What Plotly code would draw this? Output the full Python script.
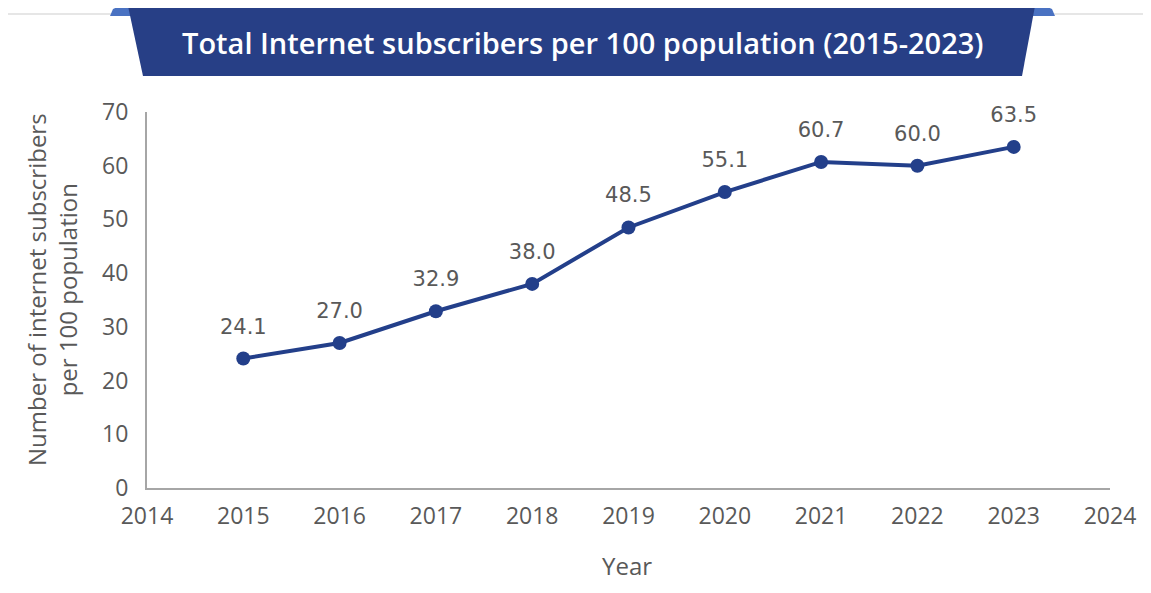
import plotly.graph_objects as go

years = [2015, 2016, 2017, 2018, 2019, 2020, 2021, 2022, 2023]
subscribers = [24.1, 27.0, 32.9, 38.0, 48.5, 55.1, 60.7, 60.0, 63.5]
x_ticks = [2014, 2015, 2016, 2017, 2018, 2019, 2020, 2021, 2022, 2023, 2024]
y_ticks = [0, 10, 20, 30, 40, 50, 60, 70]
title_text = "Total Internet subscribers per 100 population (2015-2023)"
y_title = "Number of internet subscribers<br>per 100 population"
x_title = "Year"

OFF = 8  # page offset of the figure (body margin)
W, H = 1151 - OFF, 593 - OFF
# plot area in page pixels: x 147..1110, y 112..488
PL, PR, PT, PB = 147, 1110, 112, 488
L, T = PL - OFF, PT - OFF
R, B = W - (PR - OFF), H - (PB - OFF)
pw, ph = PR - PL, PB - PT

def px(x):
    return (x - PL) / pw

def py(y):
    return (PB - y) / ph

navy = "#273F86"
grey_txt = "#595959"

fig = go.Figure()
fig.add_trace(go.Scatter(
    x=years, y=subscribers, mode="lines+markers",
    line=dict(color="#233F8A", width=4),
    marker=dict(color="#233F8A", size=14),
    showlegend=False, hoverinfo="x+y",
))
# data labels (invisible larger markers push the text a bit higher)
fig.add_trace(go.Scatter(
    x=years, y=subscribers, mode="markers+text",
    marker=dict(size=30, opacity=0),
    text=[f"{v:.1f}" for v in subscribers],
    textposition="top center",
    textfont=dict(family="DejaVu Sans", size=21, color=grey_txt),
    cliponaxis=False, showlegend=False, hoverinfo="skip",
))

def path(points):
    return "M " + " L ".join(f"{px(a):.5f},{py(b):.5f}" for a, b in points) + " Z"

shapes = []
shapes.append(dict(type="line", xref="paper", yref="paper", x0=px(5), x1=px(5), y0=py(14), y1=py(600), line=dict(color="#E6E6E6", width=2)))
shapes.append(dict(type="line", xref="paper", yref="paper", x0=px(5), x1=px(1160), y0=py(14), y1=py(14), line=dict(color="#E6E6E6", width=2)))
shapes.append(dict(type="path", xref="paper", yref="paper",
                   path=path([(110, 16), (113, 9), (120, 6), (133, 6), (133, 16)]),
                   fillcolor="#4A72C2", line=dict(width=0)))
shapes.append(dict(type="path", xref="paper", yref="paper",
                   path=path([(1030, 6), (1045, 6), (1052, 9), (1055, 16), (1030, 16)]),
                   fillcolor="#4A72C2", line=dict(width=0)))
shapes.append(dict(type="path", xref="paper", yref="paper",
                   path=path([(128, 6), (1035, 6), (1022, 76), (143, 76)]),
                   fillcolor=navy, line=dict(width=0)))

fig.update_layout(
    width=W, height=H,
    margin=dict(l=L, r=R, t=T, b=B, autoexpand=False),
    paper_bgcolor="white", plot_bgcolor="white",
    shapes=shapes,
    annotations=[
        dict(text=title_text, xref="paper", yref="paper",
             x=px(583), y=py(43), xanchor="center", yanchor="middle", showarrow=False,
             font=dict(family="Open Sans", size=29, weight=600, color="white")),
        dict(text=y_title, xref="paper", yref="paper",
             x=px(52), y=py(290), xanchor="center", yanchor="middle", showarrow=False,
             textangle=-90, font=dict(family="Open Sans", size=24, color=grey_txt)),
        dict(text=x_title, xref="paper", yref="paper",
             x=px(627), y=py(565), xanchor="center", yanchor="middle", showarrow=False,
             font=dict(family="Open Sans", size=24, color=grey_txt)),
    ],
    xaxis=dict(range=[2014, 2024], tickvals=x_ticks, ticktext=[str(t) for t in x_ticks],
               showgrid=False, zeroline=False, showline=True, linecolor="#A6A6A6", linewidth=2,
               ticks="", tickfont=dict(family="Open Sans", size=23, color=grey_txt), ticklabelstandoff=6),
    yaxis=dict(range=[0, 70], tickvals=y_ticks, showgrid=False, zeroline=False,
               showline=True, linecolor="#A6A6A6", linewidth=2, ticks="",
               tickfont=dict(family="Open Sans", size=23, color=grey_txt), ticklabelstandoff=12),
)

fig.write_html("out.html")
